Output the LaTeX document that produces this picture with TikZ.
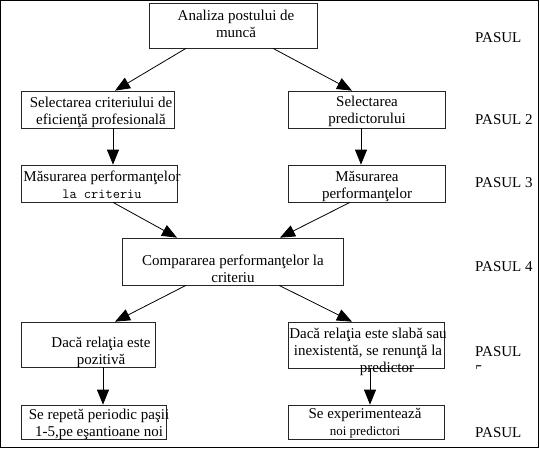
\documentclass[tikz,border=0pt]{standalone}
\usepackage{fontspec}
\setmainfont{Liberation Serif}
\usetikzlibrary{arrows.meta}

\begin{document}
\begin{tikzpicture}[
    x=1pt, y=-1pt,
    box/.style={rectangle, draw=black!85, line width=0.7pt, inner sep=0pt},
    txt/.style={align=center, inner sep=0pt, font=\fontsize{15}{17}\selectfont},
    pasul/.style={anchor=west, inner sep=0pt, font=\fontsize{15}{17}\selectfont},
    arr/.style={-{Triangle[length=15pt, width=12pt]}, line width=0.8pt},
]
    \useasboundingbox (0,0) rectangle (540,451);
    \draw[line width=0.8pt] (0.7,0.7) rectangle (538,447);

    % Row 1: job analysis
    \node[box, minimum width=168, minimum height=45] (analiza) at (233,25.5) {};
    \node[txt] at (236,24) {Analiza postului de\\munc\u{a}};

    % Row 2: selection
    \node[box, minimum width=153, minimum height=37] (crit) at (97.5,109.5) {};
    \node[txt] at (101,112) {Selectarea criteriului de\\eficien\c{t}\u{a} profesional\u{a}};
    \node[box, minimum width=157, minimum height=37] (pred) at (366.5,109.5) {};
    \node[txt] at (367,111.5) {Selectarea\\predictorului};

    % Row 3: measurement
    \node[box, minimum width=156, minimum height=37] (mcrit) at (99,183.5) {};
    \node[txt] at (102,184.5) {M\u{a}surarea performan\c{t}elor\\{\fontsize{14}{17}\ttfamily la criteriu}};
    \node[box, minimum width=157, minimum height=37] (mpred) at (366.5,183.5) {};
    \node[txt] at (367,186) {M\u{a}surarea\\performan\c{t}elor};

    % Row 4: comparison
    \node[box, minimum width=221, minimum height=47] (comp) at (232.5,261.5) {};
    \node[txt] at (233,268.5) {Compararea performan\c{t}elor la\\criteriu};

    % Row 5: decision
    \node[box, minimum width=134, minimum height=45] (poz) at (88,344.5) {};
    \node[txt] at (101,352) {Dac\u{a} rela\c{t}ia este\\pozitiv\u{a}};
    \node[box, minimum width=156, minimum height=46] (slab) at (366,345) {};
    \node[txt] at (368,352) {Dac\u{a} rela\c{t}ia este slab\u{a} sau\\inexistent\u{a}, se renun\c{t}\u{a} la\\\hspace*{38pt}predictor};

    % Row 6: follow-up
    \node[box, minimum width=145, minimum height=34] (rep) at (93.5,422) {};
    \node[txt] at (99,424.5) {Se repet\u{a} periodic pa\c{s}ii\\1-5,pe e\c{s}antioane noi};
    \node[box, minimum width=156, minimum height=34] (exp) at (366,422) {};
    \node[txt] at (365,423) {Se experimenteaz\u{a}\\{\fontsize{13}{15}\selectfont noi predictori}};

    % Step labels
    \node[pasul] (p1) at (475,38) {PASUL};
    \node[pasul] (p2) at (475,120) {PASUL 2};
    \node[pasul] (p3) at (475,183) {PASUL 3};
    \node[pasul] (p4) at (475,267) {PASUL 4};
    \node[pasul] (p5) at (475,352) {PASUL};
    \begin{scope}
        \clip (470,360) rectangle (500,368.5);
        \node[pasul, anchor=base west] (p5n) at (475,375) {5};
    \end{scope}
    \node[pasul] (p6) at (475,433) {PASUL};

    % Connections
    \draw[arr] ([xshift=-47]analiza.south) -- ([xshift=17.5]crit.north);
    \draw[arr] ([xshift=40]analiza.south) -- ([xshift=-14.5]pred.north);
    \draw[arr] ([xshift=15.5]crit.south) -- ([xshift=14]mcrit.north);
    \draw[arr] ([xshift=-5.5]pred.south) -- ([xshift=-5.5]mpred.north);
    \draw[arr] ([xshift=14]mcrit.south) -- ([xshift=-55.5]comp.north);
    \draw[arr] ([xshift=-16.5]mpred.south) -- ([xshift=47.5]comp.north);
    \draw[arr] ([xshift=-46.5]comp.south) -- ([xshift=27]poz.north);
    \draw[arr] ([xshift=46.5]comp.south) -- ([xshift=-14]slab.north);
    \draw[arr] ([xshift=15]poz.south) -- ([xshift=9.5]rep.north);
    \draw[arr] ([xshift=4]slab.south) -- ([xshift=4]exp.north);
\end{tikzpicture}
\end{document}
